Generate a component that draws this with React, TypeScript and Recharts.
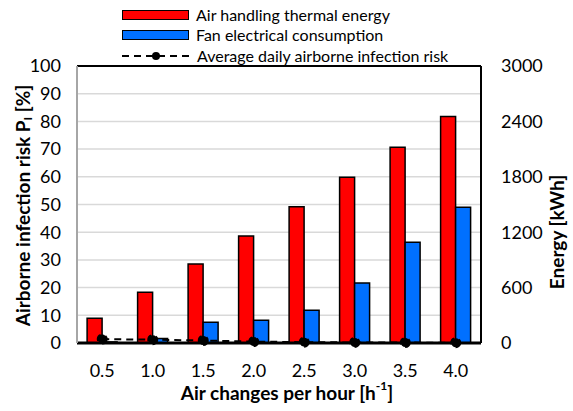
import React from 'react';
import { ComposedChart, Bar, Line, XAxis, YAxis, CartesianGrid, Legend, ReferenceLine } from 'recharts';

const categories = ['0.5', '1.0', '1.5', '2.0', '2.5', '3.0', '3.5', '4.0'];
const thermalEnergy = [267, 549, 855, 1159, 1475, 1796, 2119, 2454];
const fanElectrical = [12, 50, 224, 246, 354, 650, 1091, 1469];
const infectionRisk = [1.4, 1.2, 0.9, 0.5, 0.3, 0.2, 0.15, 0.1];

const leftTicks = [0, 10, 20, 30, 40, 50, 60, 70, 80, 90, 100];
const rightTicks = [0, 600, 1200, 1800, 2400, 3000];

const data = categories.map((c, i) => ({
  ach: c,
  thermal: thermalEnergy[i],
  fan: fanElectrical[i],
  risk: infectionRisk[i],
}));

const FONT = 'Lato, "Open Sans", sans-serif';
const RED = '#ff0000';
const BLUE = '#0070ff';

const renderLegend = () => (
  <div style={{ position: 'absolute', left: 122, top: 5, fontFamily: FONT, fontSize: 16, color: '#000', lineHeight: '20px', whiteSpace: 'nowrap' }}>
    <div style={{ display: 'flex', alignItems: 'center', height: 20 }}>
      <span style={{ width: 65, height: 8, background: RED, border: '1.5px solid #000', marginRight: 7 }} />
      Air handling thermal energy
    </div>
    <div style={{ display: 'flex', alignItems: 'center', height: 20 }}>
      <span style={{ width: 65, height: 8, background: BLUE, border: '1.5px solid #000', marginRight: 7 }} />
      Fan electrical consumption
    </div>
    <div style={{ display: 'flex', alignItems: 'center', height: 21 }}>
      <svg width={68} height={10} style={{ marginRight: 7 }}>
        <line x1={0} y1={5} x2={68} y2={5} stroke="#000" strokeWidth={2} strokeDasharray="7 5" />
        <circle cx={34} cy={5} r={4} fill="#000" />
      </svg>
      Average daily airborne infection risk
    </div>
  </div>
);

const LeftTitle = (props: any) => {
  const { viewBox } = props;
  const cx = 22;
  const cy = viewBox.y + viewBox.height / 2 + 1;
  return (
    <text x={cx} y={cy} transform={`rotate(-90, ${cx}, ${cy})`} textAnchor="middle" dominantBaseline="central"
      style={{ fontFamily: FONT, fontSize: 19, fontWeight: 700, fill: '#000' }}>
      Airborne infection risk P<tspan fontSize={12} dy={5}>I</tspan><tspan dy={-5}> [%]</tspan>
    </text>
  );
};

const RightTitle = () => {
  const cx = 556;
  const cy = 232;
  return (
    <text x={cx} y={cy} transform={`rotate(-90, ${cx}, ${cy})`} textAnchor="middle" dominantBaseline="central"
      style={{ fontFamily: FONT, fontSize: 19, fontWeight: 700, fill: '#000' }}>
      Energy [kWh]
    </text>
  );
};

const BottomTitle = () => {
  const cx = 287;
  const cy = 392;
  return (
    <text x={cx} y={cy} textAnchor="middle" dominantBaseline="central"
      style={{ fontFamily: FONT, fontSize: 19, fontWeight: 700, fill: '#000' }}>
      Air changes per hour [h<tspan fontSize={12} dy={-7}>-1</tspan><tspan dy={7}>]</tspan>
    </text>
  );
};

export default function App() {
  const tickStyle = { fontFamily: FONT, fontSize: 18, fill: '#000' };
  return (
    <div style={{ position: 'absolute', left: 0, top: 0, width: 573, height: 411, background: '#fff' }}>
      <ComposedChart width={573} height={411} data={data} barCategoryGap="20%" barGap={0}
        margin={{ top: 66, right: 0, bottom: 0, left: 0 }}>
        <CartesianGrid yAxisId="left" horizontal vertical={false} stroke="#d9d9d9" strokeWidth={1.5} />
        <XAxis dataKey="ach" tick={tickStyle} tickLine={false} tickMargin={15} height={68}
          axisLine={{ stroke: '#000', strokeWidth: 3 }} label={<BottomTitle />} />
        <YAxis yAxisId="left" orientation="left" domain={[0, 100]} ticks={leftTicks} interval={0} width={77}
          tick={tickStyle} tickLine={false} tickMargin={10} axisLine={{ stroke: '#a6a6a6', strokeWidth: 2 }}
          label={<LeftTitle />} />
        <YAxis yAxisId="right" orientation="right" domain={[0, 3000]} ticks={rightTicks} interval={0} width={92}
          tick={{ ...tickStyle, textAnchor: 'start' }} tickLine={false} tickMargin={14}
          axisLine={{ stroke: '#000', strokeWidth: 2 }} label={<RightTitle />} />
        <ReferenceLine yAxisId="left" y={100} stroke="#000" strokeWidth={2} />
        <Legend content={renderLegend} wrapperStyle={{ position: 'absolute', left: 0, top: 0, width: 573 }} />
        <Bar yAxisId="right" dataKey="thermal" fill={RED} stroke="#000" strokeWidth={1.5} isAnimationActive={false} />
        <Bar yAxisId="right" dataKey="fan" fill={BLUE} stroke="#000" strokeWidth={1.5} isAnimationActive={false} />
        <Line yAxisId="left" dataKey="risk" stroke="#000" strokeWidth={2} strokeDasharray="7 5"
          dot={{ r: 4.5, fill: '#000', stroke: '#000' }} activeDot={false} isAnimationActive={false} />
      </ComposedChart>
    </div>
  );
}
